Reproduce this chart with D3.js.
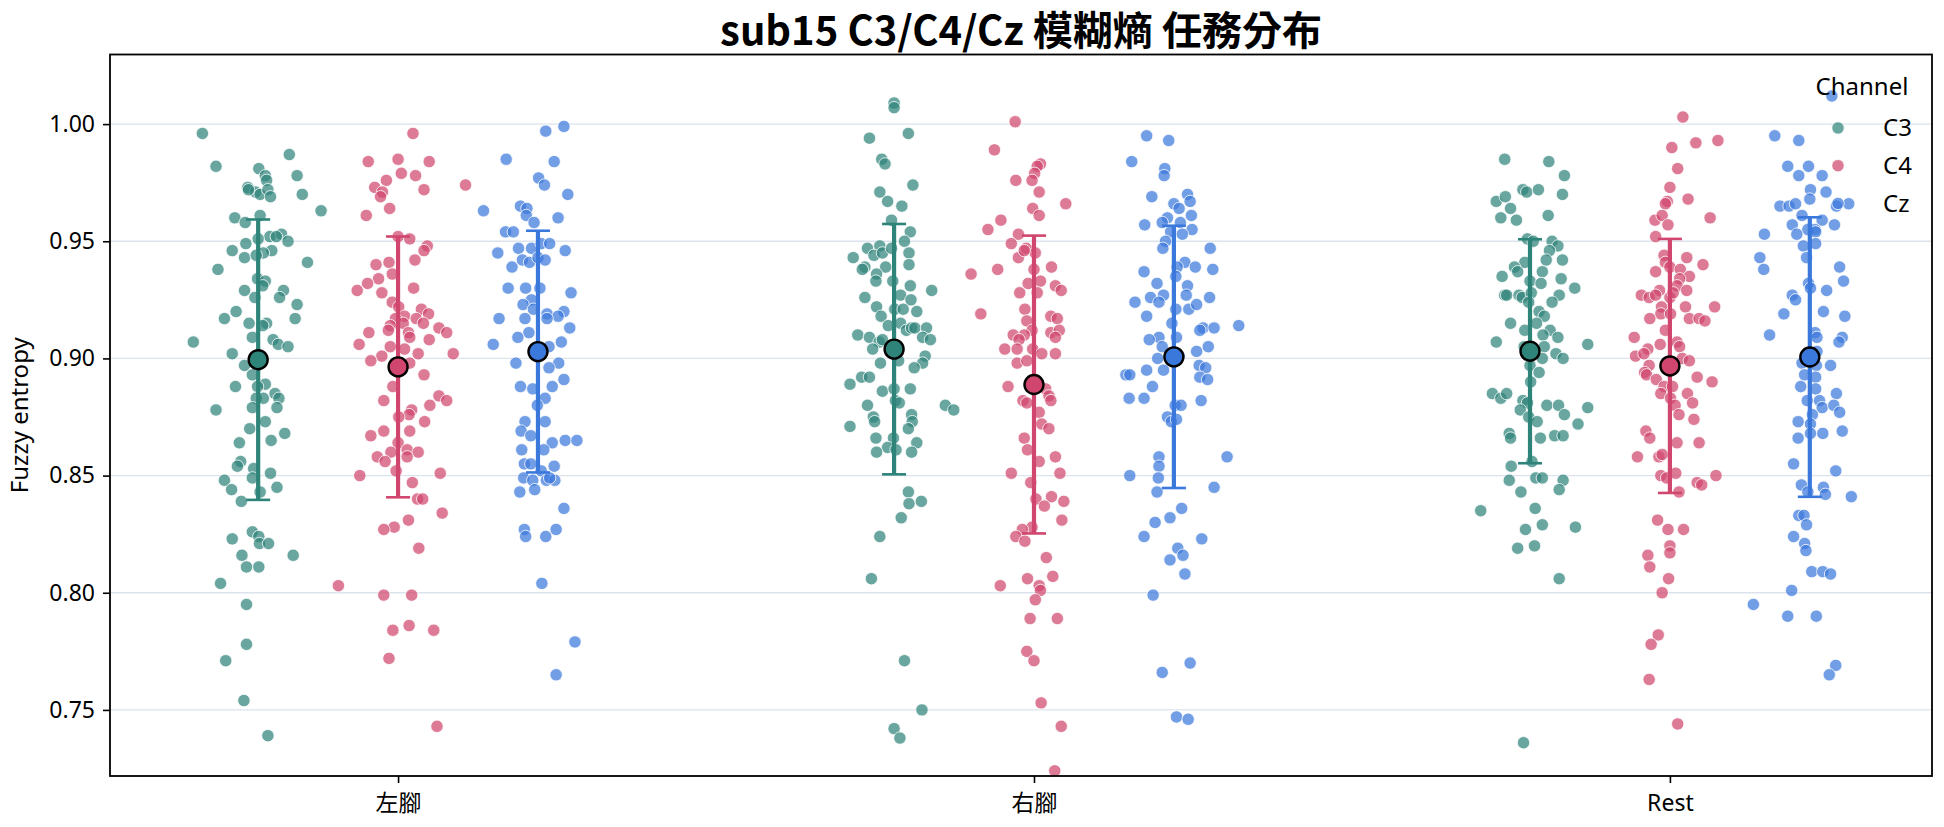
<!DOCTYPE html>
<html>
<head>
<meta charset="utf-8">
<script src="https://cdn.jsdelivr.net/npm/d3@7"></script>
<style>
body { margin: 0; background: #fff; }
svg text { font-family: "Noto Sans", "Noto Sans CJK TC", sans-serif; fill: #000; }
svg text.title { font-family: "Noto Sans CJK TC", "Noto Sans", sans-serif; }
</style>
</head>
<body>
<svg class="chart" width="1944" height="827"></svg>
<script>
const categories = ["左腳", "右腳", "Rest"]
const channels = ["C3", "C4", "Cz"]
const yTicks = [0.75, 0.80, 0.85, 0.90, 0.95, 1.00]

// each trial: [jitter (-1..1), fuzzy entropy]
const leftC3 = [
  [-0.86,0.996],[0.48,0.987],[-0.65,0.982],[0.01,0.981],[0.11,0.978],[0.60,0.978],[0.13,0.976],[-0.16,0.973],
  [-0.04,0.971],[0.03,0.970],[-0.15,0.972],[0.15,0.972],[0.19,0.969],[0.68,0.970],[0.97,0.963],[-0.36,0.960],
  [0.03,0.961],[-0.20,0.958],[0.18,0.952],[0.36,0.953],[0.28,0.952],[0.00,0.951],[0.46,0.950],[-0.19,0.949],
  [-0.40,0.946],[0.21,0.946],[0.08,0.945],[-0.21,0.943],[-0.03,0.944],[0.76,0.941],[-0.62,0.938],[-0.01,0.934],
  [0.11,0.933],[0.07,0.931],[-0.21,0.929],[0.39,0.929],[0.33,0.926],[-0.05,0.926],[0.60,0.923],[-0.34,0.920],
  [-0.52,0.917],[0.57,0.917],[-0.14,0.915],[0.13,0.915],[0.07,0.914],[-0.09,0.909],[0.23,0.908],[-1.00,0.907],
  [0.31,0.906],[0.46,0.905],[-0.40,0.902],[-0.21,0.897],[-0.09,0.893],[-0.35,0.888],[0.11,0.889],[-0.01,0.888],
  [0.26,0.885],[0.32,0.883],[-0.03,0.883],[0.08,0.883],[-0.65,0.878],[-0.09,0.879],[0.29,0.879],[0.11,0.873],
  [-0.13,0.870],[0.41,0.868],[-0.29,0.864],[0.20,0.865],[-0.27,0.856],[-0.32,0.854],[-0.07,0.853],[0.19,0.851],
  [-0.52,0.848],[-0.09,0.849],[-0.41,0.844],[0.03,0.843],[0.29,0.845],[-0.26,0.839],[-0.09,0.826],[-0.40,0.823],
  [0.01,0.824],[0.02,0.821],[0.16,0.821],[0.54,0.816],[-0.25,0.816],[-0.18,0.811],[0.01,0.811],[-0.58,0.804],
  [-0.18,0.795],[-0.18,0.778],[-0.50,0.771],[-0.22,0.754],[0.15,0.739]
]
const leftC4 = [
  [0.23,0.996],[-0.46,0.984],[0.00,0.985],[0.48,0.984],[0.05,0.979],[0.27,0.978],[-0.18,0.976],[-0.36,0.973],
  [-0.24,0.971],[-0.27,0.969],[0.40,0.972],[1.04,0.974],[-0.13,0.964],[-0.49,0.961],[0.00,0.952],[0.18,0.951],
  [0.45,0.948],[0.40,0.946],[0.26,0.942],[-0.14,0.941],[-0.34,0.940],[-0.30,0.934],[-0.09,0.936],[-0.47,0.932],
  [-0.63,0.929],[-0.25,0.928],[0.24,0.930],[-0.09,0.924],[0.01,0.922],[0.36,0.921],[0.47,0.919],[0.10,0.918],
  [-0.04,0.917],[0.28,0.917],[0.08,0.915],[-0.12,0.914],[0.39,0.915],[-0.15,0.912],[0.63,0.913],[0.75,0.911],
  [-0.45,0.911],[0.16,0.911],[0.18,0.909],[0.48,0.908],[-0.60,0.906],[-0.12,0.905],[0.10,0.904],[0.31,0.902],
  [-0.25,0.901],[0.85,0.902],[-0.42,0.899],[0.18,0.898],[0.40,0.893],[-0.08,0.888],[-0.22,0.882],[0.63,0.884],
  [0.75,0.882],[0.49,0.880],[0.21,0.878],[0.17,0.876],[0.01,0.875],[0.41,0.873],[-0.22,0.869],[0.18,0.869],
  [-0.42,0.867],[0.00,0.864],[-0.11,0.860],[0.14,0.861],[0.31,0.860],[-0.32,0.858],[-0.20,0.856],[0.14,0.858],
  [-0.03,0.852],[-0.59,0.850],[0.65,0.851],[0.22,0.847],[0.30,0.840],[0.38,0.840],[0.68,0.834],[0.16,0.831],
  [-0.06,0.828],[-0.22,0.827],[0.32,0.819],[-0.92,0.803],[-0.22,0.799],[0.21,0.799],[-0.08,0.784],[0.17,0.786],
  [0.55,0.784],[-0.14,0.772],[0.60,0.743]
]
const leftCz = [
  [0.12,0.997],[0.40,0.999],[-0.49,0.985],[0.25,0.984],[0.01,0.977],[0.10,0.974],[0.46,0.970],[-0.84,0.963],
  [-0.27,0.965],[-0.17,0.964],[-0.18,0.961],[0.31,0.960],[-0.06,0.958],[-0.50,0.954],[-0.38,0.954],[-0.62,0.945],
  [-0.30,0.947],[-0.10,0.947],[0.05,0.949],[0.18,0.949],[0.42,0.946],[-0.24,0.942],[-0.13,0.941],[0.00,0.943],
  [0.11,0.942],[-0.40,0.939],[-0.46,0.930],[-0.19,0.930],[0.03,0.930],[0.51,0.928],[-0.10,0.925],[-0.23,0.923],
  [-0.07,0.921],[0.14,0.919],[0.40,0.920],[0.31,0.918],[0.14,0.917],[-0.60,0.917],[-0.20,0.917],[0.49,0.913],
  [-0.14,0.911],[-0.31,0.909],[0.36,0.907],[-0.69,0.906],[0.17,0.905],[0.32,0.898],[-0.34,0.898],[0.17,0.896],
  [0.40,0.891],[-0.27,0.888],[0.22,0.888],[-0.08,0.887],[0.11,0.883],[-0.01,0.880],[0.11,0.873],[-0.20,0.873],
  [-0.26,0.869],[-0.11,0.867],[0.22,0.864],[0.42,0.865],[0.60,0.865],[-0.25,0.861],[0.09,0.861],[-0.21,0.855],
  [-0.11,0.855],[0.25,0.854],[0.05,0.852],[-0.22,0.849],[-0.08,0.848],[0.13,0.848],[0.26,0.848],[0.18,0.849],
  [-0.28,0.843],[-0.05,0.844],[0.40,0.836],[-0.21,0.827],[-0.19,0.824],[0.12,0.824],[0.28,0.827],[0.06,0.804],
  [0.57,0.779],[0.28,0.765]
]
const rightC3 = [
  [0.00,1.009],[0.00,1.007],[0.22,0.996],[-0.38,0.994],[-0.19,0.985],[-0.14,0.983],[0.29,0.974],[-0.22,0.971],
  [-0.10,0.967],[0.12,0.965],[-0.04,0.959],[0.25,0.954],[0.16,0.950],[-0.41,0.947],[-0.22,0.948],[-0.63,0.943],
  [-0.31,0.944],[-0.18,0.945],[-0.04,0.947],[0.23,0.945],[-0.45,0.939],[-0.49,0.938],[-0.13,0.939],[0.23,0.940],
  [-0.27,0.936],[-0.28,0.933],[-0.02,0.933],[0.25,0.931],[0.58,0.929],[0.10,0.927],[-0.45,0.926],[0.26,0.925],
  [-0.27,0.922],[0.01,0.921],[0.14,0.921],[0.35,0.920],[-0.20,0.918],[0.10,0.915],[-0.09,0.914],[0.19,0.912],
  [0.27,0.913],[0.32,0.913],[0.50,0.913],[-0.56,0.910],[-0.38,0.909],[-0.23,0.907],[-0.18,0.908],[0.44,0.909],
  [0.56,0.908],[-0.33,0.904],[0.48,0.901],[0.07,0.899],[-0.21,0.898],[0.44,0.898],[0.31,0.896],[-0.50,0.892],
  [-0.38,0.892],[-0.68,0.889],[0.25,0.887],[-0.18,0.886],[0.00,0.887],[0.02,0.882],[0.08,0.881],[-0.41,0.880],
  [0.79,0.880],[0.92,0.878],[-0.32,0.875],[-0.30,0.873],[0.27,0.876],[0.28,0.873],[-0.68,0.871],[0.22,0.870],
  [-0.28,0.866],[-0.01,0.866],[0.35,0.864],[-0.10,0.862],[0.03,0.861],[-0.27,0.860],[0.27,0.860],[0.22,0.843],
  [0.23,0.838],[0.42,0.839],[0.11,0.832],[-0.22,0.824],[-0.35,0.806],[0.16,0.771],[0.43,0.750],[0.00,0.742],
  [0.09,0.738]
]
const rightC4 = [
  [-0.29,1.001],[-0.61,0.989],[0.10,0.983],[0.05,0.982],[0.01,0.979],[-0.03,0.976],[-0.28,0.976],[0.08,0.971],
  [0.49,0.966],[-0.02,0.964],[0.08,0.961],[-0.51,0.959],[-0.71,0.955],[-0.24,0.953],[-0.35,0.949],[-0.12,0.947],
  [-0.24,0.943],[0.02,0.945],[-0.15,0.946],[-0.97,0.936],[-0.56,0.938],[0.00,0.938],[0.27,0.939],[-0.09,0.932],
  [0.10,0.933],[0.33,0.931],[0.42,0.929],[-0.22,0.928],[0.05,0.928],[-0.82,0.919],[-0.14,0.921],[0.26,0.918],
  [0.36,0.917],[-0.11,0.916],[-0.03,0.912],[0.26,0.911],[0.39,0.912],[-0.15,0.910],[-0.32,0.910],[0.33,0.909],
  [-0.23,0.908],[-0.45,0.904],[-0.26,0.904],[-0.02,0.904],[0.12,0.902],[0.33,0.902],[-0.26,0.898],[-0.11,0.899],
  [-0.40,0.888],[0.18,0.887],[0.23,0.884],[0.26,0.882],[-0.17,0.882],[-0.11,0.881],[0.08,0.877],[0.12,0.872],
  [0.23,0.870],[-0.15,0.866],[-0.10,0.861],[0.08,0.856],[0.33,0.858],[-0.35,0.851],[0.40,0.851],[-0.05,0.847],
  [0.03,0.840],[0.27,0.841],[0.16,0.837],[0.46,0.839],[0.43,0.831],[-0.03,0.828],[-0.18,0.827],[-0.28,0.824],
  [-0.14,0.822],[0.19,0.815],[-0.10,0.806],[0.29,0.807],[-0.52,0.803],[0.08,0.803],[0.10,0.801],[0.02,0.797],
  [-0.06,0.789],[0.36,0.789],[-0.11,0.775],[0.00,0.771],[0.11,0.753],[0.42,0.743],[0.32,0.724]
]
const rightCz = [
  [-0.42,0.995],[-0.08,0.993],[-0.65,0.984],[-0.14,0.981],[-0.15,0.978],[-0.34,0.969],[0.21,0.970],[0.00,0.966],
  [0.25,0.967],[0.08,0.964],[0.27,0.961],[-0.10,0.960],[-0.45,0.957],[-0.18,0.958],[0.10,0.958],[0.28,0.955],
  [-0.05,0.954],[0.13,0.953],[-0.13,0.950],[-0.17,0.947],[0.56,0.947],[0.17,0.941],[0.05,0.939],[0.33,0.939],
  [0.60,0.938],[-0.46,0.937],[0.03,0.935],[0.21,0.931],[-0.26,0.932],[0.19,0.927],[-0.16,0.927],[-0.36,0.926],
  [-0.23,0.924],[0.55,0.926],[-0.60,0.924],[0.03,0.921],[0.23,0.921],[0.35,0.923],[-0.42,0.918],[-0.03,0.915],
  [1.00,0.914],[0.45,0.913],[0.40,0.912],[0.62,0.913],[-0.23,0.909],[0.04,0.909],[-0.38,0.908],[0.53,0.905],
  [-0.18,0.905],[0.35,0.903],[-0.25,0.900],[0.08,0.901],[0.39,0.897],[0.49,0.896],[-0.16,0.895],[-0.42,0.895],
  [-0.74,0.893],[-0.68,0.893],[0.40,0.892],[0.52,0.891],[-0.33,0.888],[-0.69,0.883],[-0.46,0.883],[0.42,0.882],
  [0.02,0.880],[0.11,0.880],[-0.10,0.875],[-0.04,0.873],[0.04,0.874],[-0.23,0.858],[0.82,0.858],[-0.23,0.854],
  [-0.68,0.850],[-0.24,0.849],[-0.26,0.843],[0.62,0.845],[0.12,0.836],[-0.06,0.832],[-0.29,0.830],[-0.46,0.824],
  [0.43,0.823],[0.06,0.819],[0.14,0.816],[-0.06,0.814],[0.17,0.808],[-0.32,0.799],[0.25,0.770],[-0.18,0.766],
  [0.04,0.747],[0.22,0.746]
]
const restC3 = [
  [-0.39,0.985],[0.29,0.984],[0.53,0.978],[-0.11,0.972],[-0.05,0.971],[0.13,0.972],[0.50,0.970],[-0.52,0.967],
  [-0.38,0.969],[-0.30,0.964],[-0.45,0.960],[-0.21,0.959],[0.28,0.961],[-0.04,0.951],[0.05,0.950],[0.34,0.950],
  [0.43,0.948],[0.30,0.946],[0.25,0.942],[0.50,0.942],[-0.08,0.941],[-0.24,0.939],[-0.19,0.937],[0.19,0.937],
  [-0.43,0.935],[0.00,0.933],[0.17,0.932],[0.48,0.934],[0.69,0.930],[0.45,0.927],[-0.39,0.927],[-0.36,0.927],
  [-0.17,0.927],[-0.12,0.926],[0.02,0.928],[-0.02,0.924],[0.34,0.924],[0.14,0.920],[0.22,0.918],[0.10,0.915],
  [-0.30,0.915],[-0.08,0.912],[0.31,0.912],[0.20,0.910],[0.43,0.909],[-0.52,0.907],[0.89,0.906],[-0.09,0.905],
  [0.22,0.905],[0.40,0.902],[0.51,0.900],[0.19,0.900],[0.00,0.897],[0.14,0.894],[0.01,0.890],[-0.58,0.885],
  [-0.45,0.883],[-0.36,0.885],[-0.11,0.882],[-0.04,0.881],[-0.15,0.878],[0.26,0.880],[0.44,0.880],[0.53,0.876],
  [0.89,0.879],[-0.02,0.875],[0.11,0.873],[0.74,0.872],[-0.32,0.868],[-0.30,0.866],[0.16,0.866],[0.38,0.867],
  [0.51,0.867],[0.03,0.856],[-0.29,0.854],[-0.32,0.848],[0.09,0.849],[0.19,0.849],[0.51,0.848],[-0.14,0.843],
  [0.45,0.844],[-0.76,0.835],[0.08,0.836],[0.19,0.829],[0.70,0.828],[-0.07,0.827],[-0.19,0.819],[0.07,0.820],
  [0.45,0.806],[-0.10,0.736]
]
const restC4 = [
  [0.20,1.003],[0.03,0.990],[0.40,0.992],[0.74,0.993],[0.12,0.981],[0.00,0.973],[-0.04,0.967],[-0.07,0.966],
  [0.28,0.968],[-0.23,0.959],[-0.12,0.961],[-0.03,0.957],[0.62,0.960],[-0.22,0.952],[-0.09,0.944],[0.26,0.943],
  [0.51,0.940],[-0.07,0.941],[0.00,0.939],[-0.22,0.937],[0.16,0.938],[0.30,0.935],[0.15,0.934],[0.11,0.931],
  [0.26,0.929],[-0.16,0.929],[-0.44,0.927],[-0.32,0.926],[-0.22,0.927],[0.00,0.926],[0.05,0.928],[-0.13,0.922],
  [0.24,0.922],[0.69,0.922],[-0.14,0.919],[0.01,0.919],[-0.31,0.917],[0.30,0.917],[0.45,0.917],[0.54,0.916],
  [-0.07,0.912],[-0.55,0.909],[-0.15,0.906],[0.11,0.907],[0.15,0.905],[-0.34,0.904],[-0.53,0.901],[-0.40,0.902],
  [0.19,0.900],[0.30,0.899],[-0.32,0.897],[-0.39,0.894],[-0.36,0.893],[-0.21,0.891],[0.42,0.892],[0.65,0.890],
  [-0.09,0.888],[0.04,0.888],[-0.14,0.885],[0.27,0.885],[0.01,0.883],[0.35,0.881],[0.08,0.880],[0.14,0.876],
  [0.37,0.874],[-0.37,0.869],[-0.31,0.866],[0.11,0.864],[0.45,0.864],[-0.50,0.858],[-0.17,0.858],[-0.12,0.859],
  [-0.14,0.850],[-0.05,0.849],[0.09,0.851],[0.71,0.850],[0.42,0.847],[0.49,0.846],[0.14,0.843],[-0.19,0.831],
  [-0.03,0.827],[0.21,0.827],[0.00,0.820],[0.00,0.817],[-0.34,0.816],[-0.31,0.811],[-0.02,0.806],[-0.12,0.800],
  [-0.18,0.782],[-0.29,0.778],[-0.32,0.763],[0.12,0.744]
]
const restCz = [
  [0.34,1.012],[-0.54,0.995],[-0.17,0.993],[-0.34,0.982],[-0.02,0.982],[-0.17,0.978],[0.19,0.978],[0.01,0.972],
  [0.25,0.971],[0.00,0.968],[-0.46,0.965],[-0.32,0.965],[-0.22,0.966],[0.41,0.965],[0.60,0.966],[-0.12,0.961],
  [0.19,0.959],[-0.27,0.957],[-0.03,0.955],[0.08,0.955],[0.38,0.957],[-0.70,0.953],[-0.20,0.953],[0.09,0.954],
  [-0.10,0.948],[0.09,0.949],[-0.77,0.943],[-0.05,0.943],[-0.71,0.938],[0.46,0.939],[0.52,0.933],[-0.02,0.932],
  [0.01,0.930],[0.26,0.929],[-0.27,0.927],[-0.22,0.925],[-0.40,0.919],[0.21,0.920],[0.54,0.918],[-0.62,0.910],
  [0.08,0.911],[0.11,0.909],[0.50,0.909],[0.45,0.907],[0.11,0.903],[-0.12,0.898],[0.32,0.897],[0.10,0.897],
  [-0.08,0.893],[0.09,0.892],[-0.14,0.888],[0.09,0.887],[0.41,0.885],[-0.04,0.882],[0.15,0.882],[0.19,0.879],
  [0.37,0.880],[0.46,0.877],[0.04,0.876],[-0.18,0.873],[0.01,0.872],[0.50,0.869],[0.20,0.868],[0.01,0.868],
  [-0.18,0.866],[-0.25,0.855],[0.40,0.852],[-0.13,0.846],[-0.03,0.843],[0.21,0.845],[0.24,0.842],[0.64,0.841],
  [-0.17,0.833],[-0.09,0.833],[-0.05,0.829],[-0.25,0.824],[-0.08,0.821],[-0.06,0.818],[0.03,0.809],[0.20,0.809],
  [0.32,0.808],[-0.28,0.801],[-0.87,0.795],[-0.34,0.790],[0.10,0.790],[0.40,0.769],[0.30,0.765]
]

const groups = [
  [leftC3, leftC4, leftCz],
  [rightC3, rightC4, rightCz],
  [restC3, restC4, restCz]
]

const colors = { C3: "#2f847a", C4: "#d0466e", Cz: "#3b78dc" }

const svg = d3.select("svg.chart")

const plot = { left: 110, right: 1932, top: 54.5, bottom: 776 }

const x = d3.scaleLinear()
	.domain([-0.453, 2.409])
	.range([110, 1930])

const y = d3.scaleLinear()
	.domain([0.7218, 1.0297])
	.range([plot.bottom, plot.top])

const hue = d3.scalePoint()
	.domain(channels)
	.range([-0.22, 0.22])

const jitter = d3.scaleLinear()
	.domain([-1, 1])
	.range([-0.102, 0.102])

// grid
svg.append("g")
	.selectAll("line")
	.data(yTicks)
	.enter()
	.append("line")
	.attr("x1", plot.left)
	.attr("x2", plot.right)
	.attr("y1", d => y(d))
	.attr("y2", d => y(d))
	.attr("stroke", "#dbe3ec")
	.attr("stroke-width", 1.3)

// flatten to one row per group
const cells = []
groups.forEach((row, i) => {
	row.forEach((pts, k) => {
		const vals = pts.map(p => p[1])
		cells.push({ cat: i, ch: channels[k], pts: pts, mean: d3.mean(vals), sd: d3.deviation(vals) })
	})
})

// points
cells.forEach(c => {
	svg.append("g")
		.selectAll("circle")
		.data(c.pts)
		.enter()
		.append("circle")
		.attr("cx", d => x(c.cat + hue(c.ch) + jitter(d[0])))
		.attr("cy", d => y(d[1]))
		.attr("r", 6.2)
		.attr("fill", colors[c.ch])
		.attr("fill-opacity", 0.72)
		.attr("stroke", "#fff")
		.attr("stroke-width", 0.8)
})

// error bars (mean ± sd)
const bars = svg.append("g")
	.selectAll("g")
	.data(cells)
	.enter()
	.append("g")
	.attr("transform", d => "translate(" + x(d.cat + hue(d.ch)) + ",0)")

bars.append("line")
	.attr("y1", d => y(d.mean - d.sd))
	.attr("y2", d => y(d.mean + d.sd))
	.attr("stroke", d => colors[d.ch])
	.attr("stroke-width", 4.2)

bars.selectAll("line.cap")
	.data(d => [d.mean - d.sd, d.mean + d.sd].map(v => ({ v: v, ch: d.ch })))
	.enter()
	.append("line")
	.attr("class", "cap")
	.attr("x1", -12)
	.attr("x2", 12)
	.attr("y1", d => y(d.v))
	.attr("y2", d => y(d.v))
	.attr("stroke", d => colors[d.ch])
	.attr("stroke-width", 2.6)

bars.append("circle")
	.attr("cy", d => y(d.mean))
	.attr("r", 9.5)
	.attr("fill", d => colors[d.ch])
	.attr("stroke", "#000")
	.attr("stroke-width", 2.4)

// axes
const yAxis = svg.append("g")
	.attr("transform", "translate(" + plot.left + ",0)")
	.call(d3.axisLeft(y).tickValues(yTicks).tickFormat(d3.format(".2f")).tickSize(7).tickPadding(8))

const xAxis = svg.append("g")
	.attr("transform", "translate(0," + plot.bottom + ")")
	.call(d3.axisBottom(x).tickValues([0, 1, 2]).tickFormat(i => categories[i]).tickSize(7).tickPadding(12))

;[yAxis, xAxis].forEach(a => {
	a.select(".domain").remove()
	a.selectAll(".tick line").attr("stroke", "#000").attr("stroke-width", 1.6)
	a.selectAll("text").style("font-size", "23px")
})

svg.append("rect")
	.attr("x", plot.left)
	.attr("y", plot.top)
	.attr("width", plot.right - plot.left)
	.attr("height", plot.bottom - plot.top)
	.attr("fill", "none")
	.attr("stroke", "#000")
	.attr("stroke-width", 1.8)

svg.append("text")
	.attr("class", "title")
	.attr("x", 1021)
	.attr("y", 45)
	.attr("text-anchor", "middle")
	.style("font-size", "40px")
	.style("font-weight", "bold")
	.text("sub15 C3/C4/Cz 模糊熵 任務分布")

svg.append("text")
	.attr("transform", "translate(20," + (plot.top + plot.bottom) / 2 + ") rotate(-90)")
	.attr("dy", "0.35em")
	.attr("text-anchor", "middle")
	.style("font-size", "24px")
	.text("Fuzzy entropy")

// legend
const legend = svg.append("g")
	.attr("transform", "translate(1838,87)")

legend.append("text")
	.attr("x", 24)
	.attr("dy", "0.35em")
	.attr("text-anchor", "middle")
	.style("font-size", "24px")
	.text("Channel")

const items = legend.selectAll("g.item")
	.data(channels)
	.enter()
	.append("g")
	.attr("class", "item")
	.attr("transform", (d, i) => "translate(0," + (41 + i * 37.7) + ")")

items.append("circle")
	.attr("r", 6.2)
	.attr("fill", d => colors[d])
	.attr("fill-opacity", 0.72)
	.attr("stroke", "#fff")
	.attr("stroke-width", 0.8)

items.append("text")
	.attr("x", 45)
	.attr("dy", "0.35em")
	.style("font-size", "24px")
	.text(d => d)
</script>
</body>
</html>
